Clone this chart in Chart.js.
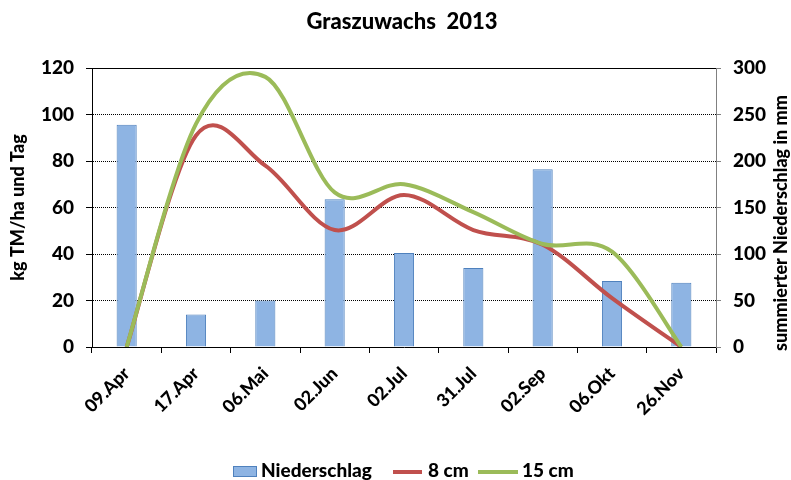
<!DOCTYPE html>
<html><head><meta charset="utf-8">
<script src="https://cdn.jsdelivr.net/npm/chart.js@4.4.0/dist/chart.umd.min.js"></script>
<style>html,body{margin:0;padding:0;background:#fff;}</style>
</head><body>
<canvas id="c" width="791" height="480" style="width:791px;height:480px;display:block"></canvas>
<script>
const categories = ['09.Apr','17.Apr','06.Mai','02.Jun','02.Jul','31.Jul','02.Sep','06.Okt','26.Nov'];
const niederschlag = [239, 35, 50, 159, 101, 85, 191, 71, 69];
const cm8 = [0, 91, 78, 50.3, 65.4, 50.3, 44, 21, 0];
const cm15 = [0, 96, 116.2, 66.5, 70, 58, 44.3, 41, 0];
const leftTicks = [0, 20, 40, 60, 80, 100, 120];
const rightTicks = [0, 50, 100, 150, 200, 250, 300];
const seriesNames = ['Niederschlag', '8 cm', '15 cm'];
const chartTitle = 'Graszuwachs  2013';
const leftTitle = 'kg TM/ha und Tag';
const rightTitle = 'summierter Niederschlag in mm';

const FAM = 'Lato, "Open Sans", sans-serif';
const W = '900';
const colors = { bar: '#8EB4E3', barBorder: '#4F81BD', red: '#C0504D', green: '#9BBB59' };

// Excel-like smoothing: control points at 1/6 of the neighbour chord, computed from the scale's pixels
const excelSmooth = {
  id: 'excelSmooth',
  beforeDatasetDraw(chart, args) {
    const meta = args.meta;
    if (meta.type !== 'line') return;
    const pts = meta.data, n = pts.length;
    for (let i = 0; i < n; i++) {
      const p = pts[i], pr = pts[Math.max(i - 1, 0)], nx = pts[Math.min(i + 1, n - 1)];
      const dx = (nx.x - pr.x) / 6, dy = (nx.y - pr.y) / 6;
      p.cp1x = p.x - dx; p.cp1y = p.y - dy; p.cp2x = p.x + dx; p.cp2y = p.y + dy;
    }
    meta.dataset._pointsUpdated = true;
    delete meta.dataset._path;
  }
};

const decor = {
  id: 'decor',
  afterDraw(chart) {
    const { ctx, chartArea: a } = chart;
    ctx.save();
    ctx.strokeStyle = '#000'; ctx.lineWidth = 1;
    ctx.beginPath(); ctx.moveTo(a.left, a.top + 0.5); ctx.lineTo(a.right, a.top + 0.5); ctx.stroke();
    ctx.fillStyle = '#000';
    ctx.textAlign = 'center'; ctx.textBaseline = 'middle';
    ctx.font = W + ' 22px ' + FAM;
    ctx.fillText(chartTitle, 402, 22);
    ctx.save();
    ctx.translate(781, 223); ctx.rotate(-Math.PI / 2);
    ctx.font = W + ' 18px ' + FAM;
    ctx.fillText(rightTitle, 0, 0);
    ctx.restore();
    // legend
    ctx.font = W + ' 19px ' + FAM;
    ctx.textAlign = 'left';
    const y = 471;
    ctx.fillStyle = colors.bar; ctx.strokeStyle = colors.barBorder; ctx.lineWidth = 1;
    ctx.fillRect(233, y - 5, 24, 11); ctx.strokeRect(233.5, y - 4.5, 23, 10);
    ctx.fillStyle = '#000'; ctx.fillText(seriesNames[0], 261, y);
    ctx.lineWidth = 4; ctx.strokeStyle = colors.red;
    ctx.beginPath(); ctx.moveTo(393, y + 1); ctx.lineTo(422, y + 1); ctx.stroke();
    ctx.fillText(seriesNames[1], 428, y);
    ctx.strokeStyle = colors.green;
    ctx.beginPath(); ctx.moveTo(478, y + 1); ctx.lineTo(518, y + 1); ctx.stroke();
    ctx.fillText(seriesNames[2], 522, y);
    ctx.restore();
  }
};

new Chart(document.getElementById('c'), {
  type: 'bar',
  data: {
    labels: categories,
    datasets: [
      { type: 'line', label: seriesNames[2], data: cm15, yAxisID: 'y', borderColor: colors.green, borderWidth: 4, pointRadius: 0, tension: 0.4, order: 0, fill: false },
      { type: 'line', label: seriesNames[1], data: cm8, yAxisID: 'y', borderColor: colors.red, borderWidth: 4, pointRadius: 0, tension: 0.4, order: 1, fill: false },
      { type: 'bar', label: seriesNames[0], data: niederschlag, yAxisID: 'y1', backgroundColor: colors.bar, borderColor: colors.barBorder, borderWidth: 1, categoryPercentage: 1, barPercentage: 0.29, order: 2 }
    ]
  },
  options: {
    responsive: false, animation: false, devicePixelRatio: 1,
    layout: { padding: { top: 68, left: 0, right: 0, bottom: 0 } },
    plugins: { legend: { display: false }, title: { display: false }, tooltip: { enabled: false } },
    scales: {
      x: {
        offset: true,
        grid: { offset: true, drawOnChartArea: false, drawTicks: true, tickLength: 6, color: '#000' },
        border: { color: '#000', width: 1 },
        ticks: { maxRotation: 45, minRotation: 45, padding: 10, color: '#000', font: { family: FAM, size: 18, weight: W } },
        afterFit: s => { s.height = 133; }
      },
      y: {
        position: 'left', min: 0, max: 120,
        afterBuildTicks: s => { s.ticks = leftTicks.map(v => ({ value: v })); },
        grid: { color: '#000', lineWidth: 1, tickLength: 6, tickColor: '#000' },
        border: { color: '#000', width: 1, dash: [1, 1] },
        ticks: { padding: 12, color: '#000', font: { family: FAM, size: 19, weight: W } },
        title: { display: true, text: leftTitle, color: '#000', font: { family: FAM, size: 18, weight: W }, padding: { top: 7, bottom: 0 } },
        afterFit: s => { s.width = 92; }
      },
      y1: {
        position: 'right', min: 0, max: 300,
        afterBuildTicks: s => { s.ticks = rightTicks.map(v => ({ value: v })); },
        grid: { drawOnChartArea: false, tickLength: 5, color: '#808080' },
        border: { color: '#808080', width: 1 },
        ticks: { padding: 12, color: '#000', font: { family: FAM, size: 19, weight: W } },
        afterFit: s => { s.width = 75; }
      }
    }
  },
  plugins: [excelSmooth, decor]
});
</script>
</body></html>
